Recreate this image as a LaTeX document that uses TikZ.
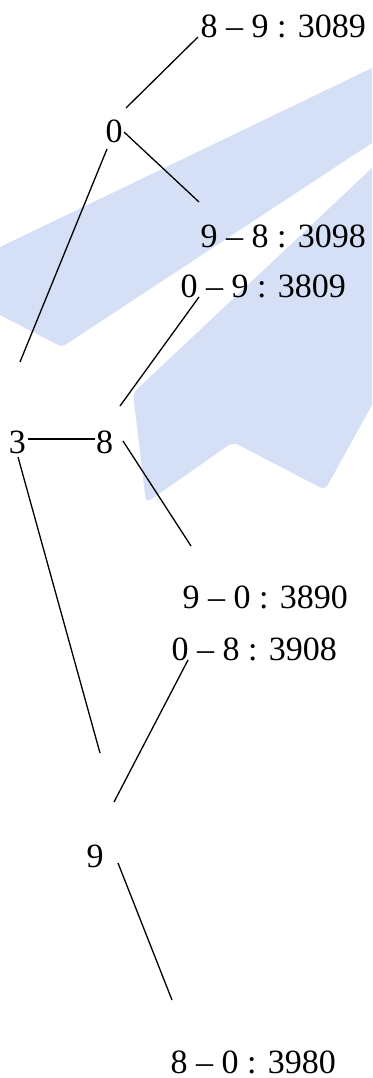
\documentclass[tikz,border=0pt]{standalone}
\usepackage{fontspec}
\setmainfont{Liberation Serif}
\definecolor{wm}{HTML}{D5E0F7}
\begin{document}
\begin{tikzpicture}[x=1pt,y=-1pt,
  txt/.style={inner sep=0pt,font=\fontsize{34}{40}\selectfont},
  lbl/.style={txt,anchor=base west},
  dig/.style={txt,anchor=base},
  edge/.style={draw=black,line width=1.3pt}]
\useasboundingbox (0,0) rectangle (372,1078);
% watermark
\fill[wm] (0,247) -- (372,68) -- (372,143) [rounded corners=4pt]-- (62,347) [sharp corners]-- (0,315) -- cycle;
\fill[wm] (372,168) [rounded corners=6pt]-- (133,393) -- (146,503) -- (233,442) -- (325,490) [sharp corners]-- (372,405) -- cycle;
% nodes
\node[dig] (n0) at (114,143) {0};
\node[dig] (n3) at (17.5,453) {3};
\node[dig] (n8) at (104.5,453) {8};
\node[dig] (n9) at (95,867) {9};
\node[lbl] (l89) at (200.5,38) {8 – 9 : 3089};
\node[lbl] (l98) at (200.5,247) {9 – 8 : 3098};
\node[lbl] (l09) at (180.5,297) {0 – 9 : 3809};
\node[lbl] (l90) at (182.5,608) {9 – 0 : 3890};
\node[lbl] (l08) at (171.5,660) {0 – 8 : 3908};
\node[lbl] (l80) at (170.5,1073) {8 – 0 : 3980};
% connectors
\draw[edge] ([shift={(12,-35)}]n0.base) -- ([shift={(-2.5,-1)}]l89.base west);
\draw[edge] ([shift={(10,-11)}]n0.base) -- ([shift={(-1.5,-45)}]l98.base west);
\draw[edge] ([shift={(-7,6)}]n0.base) -- ([shift={(2.5,-91)}]n3.base);
\draw[edge] ([shift={(15.5,-47)}]n8.base) -- ([shift={(18.5,0)}]l09.base west);
\draw[edge] ([shift={(10.5,-14)}]n3.base) -- ([shift={(-9.5,-14)}]n8.base);
\draw[edge] ([shift={(18.5,-12)}]n8.base) -- ([shift={(8.5,-62)}]l90.base west);
\draw[edge] ([shift={(0.5,4)}]n3.base) -- ([shift={(5,-114)}]n9.base);
\draw[edge] ([shift={(19,-65)}]n9.base) -- ([shift={(16.5,0)}]l08.base west);
\draw[edge] ([shift={(23,-4)}]n9.base) -- ([shift={(1.5,-73)}]l80.base west);
\end{tikzpicture}
\end{document}
